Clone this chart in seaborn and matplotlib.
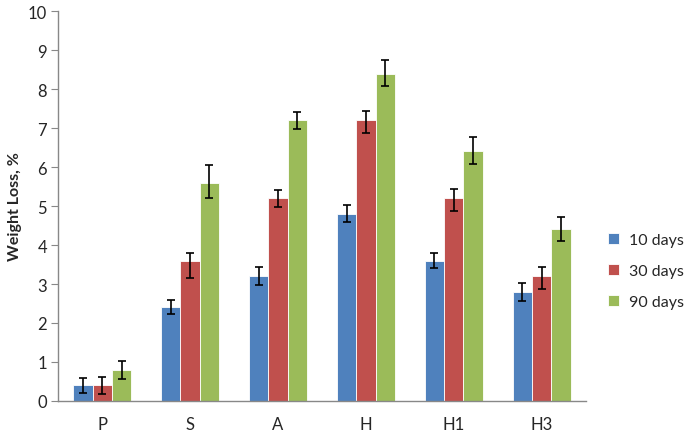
import matplotlib
matplotlib.use('Agg')
import matplotlib.pyplot as plt
import seaborn as sns
import pandas as pd
import numpy as np

# data
cats = ['P', 'S', 'A', 'H', 'H1', 'H3']
periods = ['10 days', '30 days', '90 days']
d10 = [0.4, 2.4, 3.2, 4.8, 3.6, 2.8]
d30 = [0.4, 3.6, 5.2, 7.2, 5.2, 3.2]
d90 = [0.8, 5.6, 7.2, 8.4, 6.4, 4.4]
# error bar ends (lower / upper)
lo10 = [0.20, 2.22, 2.97, 4.59, 3.42, 2.57]
hi10 = [0.58, 2.59, 3.43, 5.03, 3.79, 3.03]
lo30 = [0.17, 3.16, 4.98, 6.88, 4.88, 2.86]
hi30 = [0.62, 3.79, 5.42, 7.44, 5.44, 3.43]
lo90 = [0.57, 5.20, 6.98, 8.08, 6.08, 4.10]
hi90 = [1.02, 6.05, 7.42, 8.76, 6.76, 4.72]

colors = ['#4F81BD', '#C0504D', '#9BBB59']

df = pd.DataFrame({
    'cat': cats * 3,
    'period': [p for p in periods for _ in cats],
    'loss': d10 + d30 + d90,
})

sns.set_style('white')
plt.rcParams['font.family'] = ['Lato', 'DejaVu Sans']

fig = plt.figure(figsize=(6.85, 4.35), dpi=100)
ax = fig.add_axes([0.085, 0.076, 0.77, 0.896])

sns.barplot(data=df, x='cat', y='loss', hue='period', hue_order=periods,
            palette=colors, width=0.66, errorbar=None, ax=ax,
            edgecolor='white', linewidth=0.6, saturation=1)

# error bars placed at the bar centres seaborn produced
los = [lo10, lo30, lo90]
his = [hi10, hi30, hi90]
vals = [d10, d30, d90]
for cont, v, lo, hi in zip(ax.containers, vals, los, his):
    xs = [b.get_x() + b.get_width() / 2 for b in cont]
    v = np.array(v)
    yerr = [v - np.array(lo), np.array(hi) - v]
    ax.errorbar(xs, v, yerr=yerr, fmt='none', ecolor='black',
                elinewidth=1.2, capsize=3, capthick=1.2)

ax.set_ylim(0, 10)
ax.set_yticks(range(0, 11))
ax.set_xlim(-0.5, 5.5)
ax.set_xlabel('')
ax.set_ylabel('Weight Loss, %', fontsize=11.5, fontweight='bold', labelpad=4)
ax.tick_params(axis='y', which='major', left=True, length=5, color='#888888',
               labelsize=12, pad=3)
ax.tick_params(axis='x', bottom=False, labelsize=12, pad=7)
sns.despine(ax=ax)
for side in ['left', 'bottom']:
    ax.spines[side].set_color('#888888')
    ax.spines[side].set_linewidth(1.0)

ax.legend(loc='center left', bbox_to_anchor=(0.876, 0.375),
          bbox_transform=fig.transFigure, frameon=False, fontsize=11.5,
          handlelength=0.7, handleheight=0.7, labelspacing=1.05,
          handletextpad=0.6, borderpad=0)

plt.savefig('out.png', dpi=100)
